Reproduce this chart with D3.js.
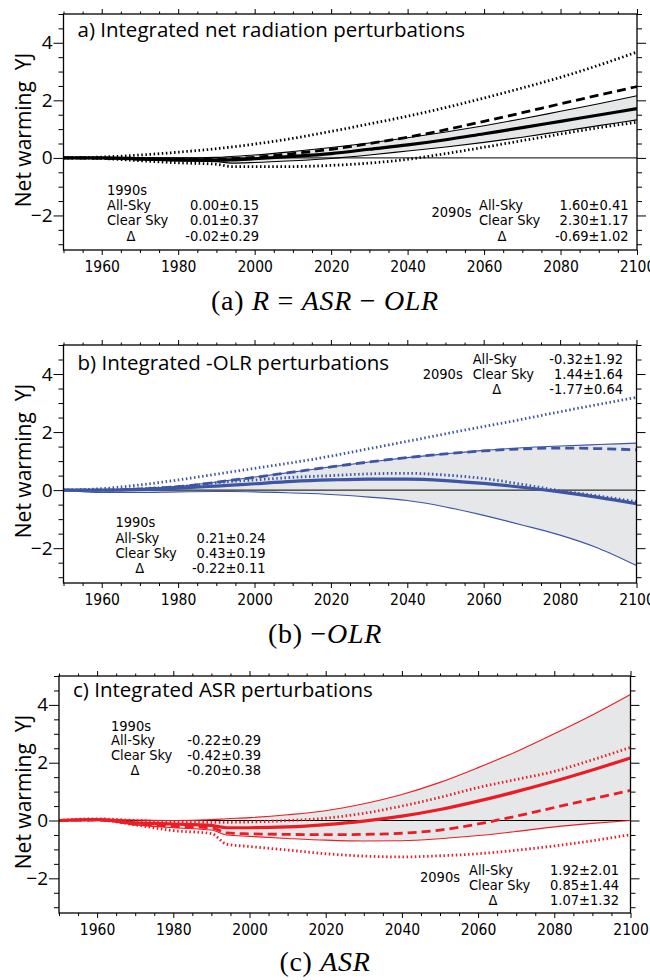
<!DOCTYPE html>
<html>
<head>
<meta charset="utf-8">
<script src="https://d3js.org/d3.v7.min.js"></script>
<style>
  body { margin: 0; background: #fff; }
  svg { display: block; }
</style>
</head>
<body>
<svg width="650" height="980"></svg>
<script>
/*************************** DATA ***************************/
const years = [1950, 1960, 1970, 1980, 1990, 1994, 2000, 2010, 2020, 2030, 2040, 2050, 2060, 2070, 2080, 2090, 2100];

// a) net radiation (YJ)
const aAllSky = [0, 0, -0.03, -0.07, -0.08, -0.07, -0.03, 0.05, 0.15, 0.3, 0.45, 0.63, 0.84, 1.05, 1.27, 1.49, 1.71];
const aBandHi = [0, 0.01, 0, 0, 0.02, 0.05, 0.1, 0.22, 0.36, 0.52, 0.7, 0.9, 1.12, 1.36, 1.62, 1.88, 2.16];
const aBandLo = [0, -0.02, -0.07, -0.11, -0.13, -0.18, -0.16, -0.1, -0.02, 0.1, 0.24, 0.38, 0.54, 0.72, 0.92, 1.12, 1.32];
const aClear  = [0, -0.01, -0.04, -0.05, -0.05, -0.03, 0.02, 0.15, 0.3, 0.5, 0.72, 0.98, 1.27, 1.57, 1.88, 2.18, 2.48];
const aDotHi  = [0, 0.03, 0.1, 0.2, 0.32, 0.38, 0.48, 0.68, 0.92, 1.18, 1.45, 1.75, 2.08, 2.43, 2.8, 3.22, 3.68];
const aDotLo  = [0, -0.02, -0.1, -0.17, -0.22, -0.3, -0.3, -0.3, -0.26, -0.18, -0.05, 0.15, 0.37, 0.6, 0.83, 1.05, 1.24];

// b) -OLR
const bAllSky = [0, 0, 0.02, 0.07, 0.14, 0.17, 0.22, 0.3, 0.35, 0.38, 0.38, 0.33, 0.23, 0.1, -0.06, -0.25, -0.47];
const bBandHi = [0, 0.01, 0.05, 0.13, 0.28, 0.35, 0.45, 0.62, 0.8, 0.97, 1.12, 1.25, 1.37, 1.46, 1.52, 1.57, 1.62];
const bBandLo = [0, -0.08, -0.08, -0.06, -0.05, -0.05, -0.06, -0.1, -0.15, -0.24, -0.36, -0.58, -0.87, -1.2, -1.55, -2.0, -2.6];
const bClear  = [0, 0, 0.04, 0.12, 0.27, 0.34, 0.44, 0.62, 0.8, 0.97, 1.12, 1.25, 1.35, 1.42, 1.45, 1.43, 1.39];
const bDotHi  = [0, 0.05, 0.18, 0.35, 0.55, 0.63, 0.75, 0.95, 1.17, 1.43, 1.68, 1.94, 2.19, 2.44, 2.7, 2.95, 3.2];
const bDotLo  = [0, 0, 0.05, 0.12, 0.25, 0.3, 0.35, 0.44, 0.5, 0.56, 0.58, 0.52, 0.4, 0.2, -0.02, -0.2, -0.4];

// c) ASR
const cAllSky = [0, 0.03, -0.08, -0.12, -0.17, -0.25, -0.25, -0.22, -0.14, -0.02, 0.15, 0.38, 0.67, 1.0, 1.36, 1.75, 2.16];
const cBandHi = [0, 0.05, 0.02, 0, 0.03, 0.06, 0.1, 0.2, 0.34, 0.58, 0.9, 1.32, 1.83, 2.38, 3.0, 3.65, 4.36];
const cBandLo = [0, 0.02, -0.15, -0.25, -0.33, -0.5, -0.55, -0.62, -0.68, -0.71, -0.7, -0.63, -0.52, -0.38, -0.22, -0.1, 0];
const cClear  = [0, 0.02, -0.12, -0.2, -0.25, -0.43, -0.46, -0.48, -0.49, -0.48, -0.44, -0.33, -0.12, 0.15, 0.45, 0.75, 1.04];
const cDotHi  = [0, 0.06, 0, -0.05, -0.06, -0.06, -0.05, 0, 0.08, 0.25, 0.5, 0.8, 1.14, 1.42, 1.7, 2.1, 2.53];
const cDotLo  = [0, 0.02, -0.15, -0.35, -0.45, -0.82, -0.9, -1.02, -1.15, -1.23, -1.26, -1.22, -1.15, -1.03, -0.88, -0.7, -0.49];

// text
const titles = ['a) Integrated net radiation perturbations', 'b) Integrated -OLR perturbations', 'c) Integrated ASR perturbations'];
const yLabel = 'Net warming  YJ';
const statRows = ['All-Sky', 'Clear Sky', 'Δ'];
const a1990 = ['0.00±0.15', '0.01±0.37', '-0.02±0.29'];
const a2090 = ['1.60±0.41', '2.30±1.17', '-0.69±1.02'];
const b1990 = ['0.21±0.24', '0.43±0.19', '-0.22±0.11'];
const b2090 = ['-0.32±1.92', '1.44±1.64', '-1.77±0.64'];
const c1990 = ['-0.22±0.29', '-0.42±0.39', '-0.20±0.38'];
const c2090 = ['1.92±2.01', '0.85±1.44', '1.07±1.32'];
// caption pieces: [text, italic]
const captionA = [['(a) ', false], ['R', true], [' = ', false], ['ASR', true], [' − ', false], ['OLR', true]];
const captionB = [['(b) ', false], ['−', false], ['OLR', true]];
const captionC = [['(c) ', false], ['ASR', true]];

const xTicksMajor = [1960, 1980, 2000, 2020, 2040, 2060, 2080, 2100];
const yTicksMajor = [-2, 0, 2, 4];

/*************************** LAYOUT ***************************/
const panels = [
  {series: [aAllSky, aBandHi, aBandLo, aClear, aDotHi, aDotLo], color: '#000000',
   left: 63.5, right: 637, top: 14, bottom: 250, titleY: 37, captionY: 310, caption: captionA,
   blocks: [
     {decade: '1990s', vals: a1990, decX: 107, decY: 190, labX: 107, valX: 259, deltaX: 131, rows: [204.3, 220, 235.7]},
     {decade: '2090s', vals: a2090, decX: 431.5, decY: 211.7, labX: 479, valX: 628.6, deltaX: 502, rows: [204.3, 220, 235.7]}
   ]},
  {series: [bAllSky, bBandHi, bBandLo, bClear, bDotHi, bDotLo], color: '#3c55a5',
   left: 63.5, right: 636.5, top: 345, bottom: 583, titleY: 370, captionY: 643, caption: captionB,
   blocks: [
     {decade: '1990s', vals: b1990, decX: 115.4, decY: 521.7, labX: 115.4, valX: 265.6, deltaX: 139.8, rows: [537.7, 552.3, 567.7]},
     {decade: '2090s', vals: b2090, decX: 422.7, decY: 373.3, labX: 472.7, valX: 623, deltaX: 496.7, rows: [358.3, 373.3, 389]}
   ]},
  {series: [cAllSky, cBandHi, cBandLo, cClear, cDotHi, cDotLo], color: '#ed1c24',
   left: 59, right: 630.5, top: 676, bottom: 913, titleY: 697, captionY: 971, caption: captionC,
   blocks: [
     {decade: '1990s', vals: c1990, decX: 111, decY: 725.7, labX: 111, valX: 261, deltaX: 135, rows: [740, 755, 770]},
     {decade: '2090s', vals: c2090, decX: 420, decY: 876.7, labX: 469, valX: 619, deltaX: 493, rows: [870, 885, 900]}
   ]}
];

const svg = d3.select('svg');
const statFont = '"DejaVu Sans Condensed", "DejaVu Sans", sans-serif';
const myriadish = '"Open Sans", "Noto Sans", sans-serif';

panels.forEach((p, i) => {
  let x = d3.scaleLinear().domain([1950, 2100]).range([p.left, p.right]);
  let y = d3.scaleLinear().domain([-3.2, 5]).range([p.bottom, p.top]);
  let g = svg.append('g');

  // clip
  let clipId = 'clip' + i;
  svg.append('clipPath').attr('id', clipId)
    .append('rect').attr('x', p.left).attr('y', p.top)
    .attr('width', p.right - p.left).attr('height', p.bottom - p.top);

  let plot = g.append('g').attr('clip-path', `url(#${clipId})`);
  let [allSky, hi, lo, clear, dHi, dLo] = p.series;

  // grey spread band
  let area = d3.area()
    .x((d, k) => x(years[k]))
    .y0((d, k) => y(lo[k]))
    .y1((d, k) => y(hi[k]))
    .curve(d3.curveMonotoneX);
  plot.append('path').datum(hi).attr('d', area).attr('fill', '#e6e7e8');

  // zero line
  plot.append('line').attr('x1', p.left).attr('x2', p.right)
    .attr('y1', y(0)).attr('y2', y(0)).attr('stroke', '#000').attr('stroke-width', 1);

  let line = d3.line().x((d, k) => x(years[k])).y(d => y(d)).curve(d3.curveMonotoneX);
  let draw = (vals, w, dash) => plot.append('path').datum(vals).attr('d', line)
    .attr('fill', 'none').attr('stroke', p.color).attr('stroke-width', w)
    .attr('stroke-dasharray', dash);

  draw(hi, 1.1, null);
  draw(lo, 1.1, null);
  draw(dHi, 2.8, '1.5,2.6');
  draw(dLo, 2.8, '1.5,2.6');
  draw(clear, 2.8, '9,5');
  draw(allSky, 3.2, null);

  /********************** AXES **********************/
  let minorX = d3.range(1950, 2101, 5).filter(v => !xTicksMajor.includes(v));
  let minorY = d3.range(-3, 5.01, 0.5).filter(v => !yTicksMajor.includes(v));
  let noLab = () => '';

  let addAxis = (ax, tx, ty) => {
    let a = g.append('g').attr('transform', `translate(${tx},${ty})`).call(ax);
    a.select('.domain').remove();
    a.selectAll('line').attr('stroke', '#000').attr('stroke-width', 1);
    return a;
  };
  // top
  addAxis(d3.axisTop(x).tickValues(minorX).tickSize(2.5).tickFormat(noLab), 0, p.top);
  addAxis(d3.axisTop(x).tickValues(xTicksMajor).tickSize(5).tickFormat(noLab), 0, p.top);
  // bottom
  addAxis(d3.axisBottom(x).tickValues(minorX).tickSize(3).tickFormat(noLab), 0, p.bottom);
  let bx = addAxis(d3.axisBottom(x).tickValues(xTicksMajor).tickSize(5).tickPadding(6).tickFormat(d3.format('d')), 0, p.bottom);
  bx.selectAll('text').attr('font-family', statFont).attr('font-size', 15.5).attr('fill', '#000');
  // left
  addAxis(d3.axisLeft(y).tickValues(minorY).tickSize(5).tickFormat(noLab), p.left, 0);
  let ly = addAxis(d3.axisLeft(y).tickValues(yTicksMajor).tickSize(10).tickPadding(1).tickFormat(d3.format('d')), p.left, 0);
  ly.selectAll('text').attr('font-family', myriadish).attr('font-size', 19).attr('fill', '#000');
  // right
  addAxis(d3.axisRight(y).tickValues(minorY).tickSize(5).tickFormat(noLab), p.right, 0);
  addAxis(d3.axisRight(y).tickValues(yTicksMajor).tickSize(9).tickFormat(noLab), p.right, 0);

  // frame
  g.append('rect').attr('x', p.left).attr('y', p.top)
    .attr('width', p.right - p.left).attr('height', p.bottom - p.top)
    .attr('fill', 'none').attr('stroke', '#000').attr('stroke-width', 1.3);

  /********************** TEXT **********************/
  g.append('text').attr('x', p.left + 14).attr('y', p.titleY)
    .attr('font-family', myriadish).attr('font-size', 20.5).text(titles[i]);

  g.append('text')
    .attr('transform', `translate(31,${p.top + 116}) rotate(-90)`)
    .attr('text-anchor', 'middle').attr('font-family', myriadish).attr('font-size', 21)
    .style('white-space', 'pre').text(yLabel);

  p.blocks.forEach(b => {
    let t = g.append('g').attr('font-family', statFont).attr('font-size', 14.5).attr('fill', '#000');
    t.append('text').attr('x', b.decX).attr('y', b.decY + 5.3).text(b.decade);
    statRows.forEach((r, k) => {
      let isDelta = r === 'Δ';
      t.append('text').attr('x', isDelta ? b.deltaX : b.labX).attr('y', b.rows[k] + 5.3)
        .attr('text-anchor', isDelta ? 'middle' : 'start').text(r);
      t.append('text').attr('x', b.valX).attr('y', b.rows[k] + 5.3)
        .attr('text-anchor', 'end').text(b.vals[k]);
    });
  });

  let cap = g.append('text').attr('x', 325).attr('y', p.captionY).attr('text-anchor', 'middle')
    .attr('font-family', '"Liberation Serif", "DejaVu Serif", serif').attr('font-size', 28)
    .attr('letter-spacing', 0.7)
    .style('white-space', 'pre');
  p.caption.forEach(([s, it]) => {
    cap.append('tspan').attr('font-style', it ? 'italic' : 'normal').text(s);
  });
});
</script>
</body>
</html>
